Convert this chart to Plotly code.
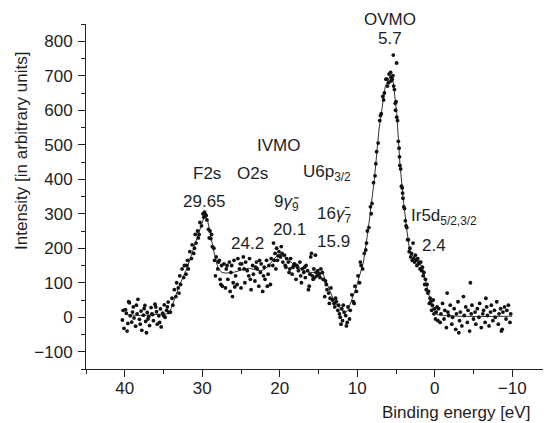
import plotly.graph_objects as go

# ---------------- measured points (binding energy in eV, intensity) ----------------
energy_baseline_hi = [40.3, 40.1, 39.9, 39.8, 39.6, 39.4, 39.3, 39.1, 38.9, 38.8,
                      38.6, 38.4, 38.3, 38.1, 37.9, 37.8, 37.6, 37.4, 37.3, 37.1,
                      36.9, 36.8, 36.6, 36.4, 36.3, 36.1, 35.9, 35.8, 35.6, 35.4,
                      35.3, 35.1, 34.9, 34.8, 34.6, 34.4, 34.3,
                      40.2, 39.7, 39.0, 38.5, 38.0, 37.5, 37.0, 36.5, 36.0, 35.5, 35.0, 34.5, 39.5, 37.2]
counts_baseline_hi = [-8, -32, 22, 12, -18, 42, 4, -14, 30, -2,
                      -26, 10, 52, -6, 18, -38, 6, 34, -12, 14,
                      2, -24, 28, 8, -10, 38, 16, -20, 4, 24,
                      -28, 12, 36, 0, 20, 44, 14,
                      20, -40, 15, 35, -20, 25, -5, 10, 30, -15, 5, 30, 45, -45]

energy_f2s = [34.1, 33.9, 33.8, 33.6, 33.4, 33.3, 33.1, 32.9, 32.8, 32.6,
              32.4, 32.3, 32.1, 31.9, 31.8, 31.6, 31.4, 31.3, 31.1, 30.9,
              30.8, 30.6, 30.4, 30.3, 30.1, 29.9, 29.8,
              33.0, 32.0, 31.0, 30.5, 29.7, 29.6,
              29.5, 29.4, 29.2, 29.0, 28.9, 28.7, 28.5, 28.4, 28.2, 28.0,
              27.9, 27.7, 27.5, 27.4,
              29.1, 28.8, 28.3, 27.8, 27.6]
counts_f2s = [15, 55, 35, 80, 60, 100, 85, 120, 95, 140,
              115, 150, 125, 165, 140, 190, 170, 210, 185, 240,
              215, 250, 240, 275, 265, 300, 290,
              70, 150, 200, 230, 305, 298,
              295, 282, 255, 250, 228, 205, 200, 165, 175, 140,
              160, 110, 150, 90,
              230, 240, 120, 165, 95]

energy_o2s_ivmo = [27.2, 27.0, 26.9, 26.7, 26.5, 26.4, 26.2, 26.0, 25.9, 25.7,
                   25.5, 25.4, 25.2, 25.0, 24.9, 24.7, 24.5, 24.4, 24.2, 24.0,
                   23.9, 23.7, 23.5, 23.4, 23.2, 23.0, 22.9, 22.7, 22.5, 22.4,
                   22.2, 22.0, 21.9, 21.7, 21.5, 21.4, 21.2,
                   26.8, 26.3, 25.8, 25.1, 24.6, 23.8, 23.1, 22.6, 22.1, 21.6, 26.1,
                   21.1, 20.9, 20.8, 20.6, 20.4, 20.3, 20.1, 19.9, 19.8, 19.6,
                   19.4, 19.3, 19.1,
                   20.7, 20.2, 19.7, 19.2, 20.5]
counts_o2s_ivmo = [155, 85, 140, 110, 160, 75, 150, 100, 165, 120,
                   95, 170, 140, 85, 155, 175, 100, 160, 135, 120,
                   170, 80, 150, 125, 105, 160, 140, 90, 130, 155,
                   75, 145, 110, 165, 125, 150, 95,
                   150, 130, 88, 155, 140, 110, 145, 165, 120, 90, 60,
                   170, 150, 215, 185, 200, 165, 190, 175, 205, 160,
                   180, 150, 170,
                   165, 178, 185, 145, 140]

energy_u6p = [18.9, 18.7, 18.6, 18.4, 18.2, 18.1, 17.9, 17.7, 17.6, 17.4,
              17.2, 17.1, 16.9, 16.7, 16.6, 16.4, 16.2, 16.1, 15.9, 15.7,
              15.6, 15.4, 15.2, 15.1, 14.9, 14.7,
              18.8, 18.3, 17.8, 17.3, 16.8, 16.3, 15.8, 15.3, 14.8, 16.0, 15.5,
              14.5, 14.4, 14.2, 14.0, 13.9, 13.7, 13.5, 13.4, 13.2, 13.0,
              12.9, 12.7, 12.5, 12.4, 12.2, 12.0, 11.9, 11.7, 11.5, 11.4,
              11.2, 11.0,
              14.1, 13.6, 12.8, 12.3, 11.8, 11.3, 12.1]
counts_u6p = [160, 140, 170, 125, 150, 155, 110, 145, 135, 160,
              100, 140, 130, 115, 150, 135, 90, 125, 185, 110,
              140, 180, 120, 135, 125, 140,
              130, 145, 150, 120, 145, 80, 120, 130, 115, 175, 115,
              130, 110, 60, 95, 80, 70, 55, 85, 50, 40,
              30, 45, 20, 35, 0, 25, -10, 15, 5, -25,
              30, -5,
              105, 40, 55, 10, 35, -15, -20]

energy_ovmo = [10.9, 10.7, 10.5, 10.3, 10.1, 9.9, 9.7, 9.5, 9.3, 9.1,
               8.9, 8.7, 8.5, 8.3, 8.1, 7.9, 7.7, 7.5, 7.3, 7.1,
               6.9, 6.7, 6.5, 6.3, 6.1, 5.9,
               10.4, 9.6, 8.8, 8.2, 7.6, 7.0, 6.6, 6.2, 5.95,
               5.7, 5.6, 5.5, 5.4, 5.3, 5.2, 5.1, 5.0, 4.9, 4.8,
               4.7, 4.6, 4.5, 4.4, 4.3, 4.2, 4.1, 4.0, 3.9, 3.8, 3.7,
               5.35, 4.92, 5.65, 5.05, 4.55, 4.15]
counts_ovmo = [20, 65, 45, 90, 75, 120, 100, 150, 140, 185,
               195, 250, 260, 320, 330, 390, 410, 480, 505, 570,
               590, 640, 650, 690, 670, 705,
               40, 160, 215, 300, 445, 585, 630, 690, 680,
               710, 695, 690, 700, 670, 660, 620, 625, 580, 570,
               510, 490, 440, 430, 380, 375, 345, 320, 315, 280, 265,
               760, 737, 685, 600, 465, 360]

energy_ir5d = [3.6, 3.5, 3.4, 3.3, 3.2, 3.1, 3.0, 2.9, 2.8, 2.7,
               2.6, 2.5, 2.4, 2.3, 2.2, 2.1, 2.0, 1.9, 1.8, 1.7,
               1.6, 1.5, 1.4, 1.3,
               1.2, 1.1, 1.0, 0.9, 0.8, 0.7, 0.6, 0.5, 0.4, 0.3,
               0.2, 0.1, 0.0, -0.1, -0.2, -0.3, -0.4]
counts_ir5d = [260, 225, 225, 190, 200, 175, 185, 165, 215, 170,
               160, 180, 165, 150, 170, 155, 160, 140, 160, 135,
               145, 120, 130, 95,
               110, 80, 95, 70, 75, 40, 55, 45, 20, 35,
               50, 10, 25, -5, 15, 30, -10]

energy_baseline_lo = [-0.5, -0.7, -0.8, -1.0, -1.2, -1.3, -1.5, -1.7, -1.8, -2.0,
                      -2.2, -2.3, -2.5, -2.7, -2.8, -3.0, -3.2, -3.3, -3.5, -3.7,
                      -3.8, -4.0, -4.2, -4.3, -4.5, -4.7, -4.8, -5.0, -5.2, -5.3,
                      -5.5, -5.7, -5.8, -6.0, -6.2, -6.3, -6.5, -6.7, -6.8, -7.0,
                      -7.2, -7.3, -7.5, -7.7, -7.8, -8.0, -8.2, -8.3, -8.5, -8.7,
                      -8.8, -9.0, -9.2, -9.3, -9.5, -9.7,
                      -4.6, -1.6, -3.1, -6.6, -8.6, -9.8]
counts_baseline_lo = [25, -15, 10, 40, -5, 20, -30, 15, 5, 35,
                      -20, 0, 25, -35, 10, 45, -10, 15, -25, 60,
                      5, 30, -15, 20, -40, 10, 35, -5, 15, -20,
                      25, 0, 40, -30, 10, 20, -15, 30, 5, -25,
                      15, 35, -10, 20, 0, 45, -20, 10, 25, -35,
                      15, 30, -5, 20, 35, -15,
                      100, 70, -45, 55, -40, 10]

# ---------------- fitted curve ----------------
fit_energy = [40, 38, 36, 34.5, 34, 33, 32, 31, 30.5, 30, 29.65, 29.3, 29, 28.5, 28,
              27.5, 27, 26.5, 26, 25.5, 25, 24.5, 24, 23.5, 23, 22.5, 22, 21.5, 21,
              20.5, 20, 19.5, 19, 18.5, 18, 17.5, 17, 16.5, 16, 15.5, 15, 14.8, 14.4,
              13.7, 12.9, 12.2, 11.6, 11.2, 10.6, 10.1, 9.2, 8.6, 7.8, 7.2, 6.4, 5.7,
              5.4, 4.9, 4.5, 4.1, 3.6, 3.2, 2.8, 1.9, 1.5, 0.9, 0.4, -0.25, -1, -3, -6, -10]
fit_counts = [8, 5, 8, 10, 25, 90, 140, 210, 245, 280, 298, 280, 245, 190, 145,
              130, 128, 128, 130, 133, 137, 140, 142, 140, 137, 135, 138, 148, 162,
              175, 182, 177, 168, 158, 150, 143, 137, 132, 130, 130, 130, 130, 125,
              85, 42, 25, 12, 20, 55, 89, 160, 253, 398, 543, 668, 702,
              690, 591, 447, 349, 253, 186, 178, 157, 137, 79, 31, 8, 5, 3, 2, 3]

# ---------------- peak labels ----------------
label_texts = ["5.7", "IVMO", "F2s", "O2s", "U6p<sub>3/2</sub>", "29.65",
               "9<i>γ</i><sub>9</sub>", "16<i>γ</i><sub>7</sub>", "24.2", "20.1", "15.9",
               "Ir5d<sub>5/2,3/2</sub>", "2.4"]
label_energy = [5.77, 20.2, 29.43, 23.56, 13.9, 29.65, 19.1, 13.0, 24.1, 18.8, 13.1, -1.15, 0.06]
label_counts = [808, 497, 417, 417, 417, 335, 331, 297, 214, 253, 219, 292, 207]
top_label = "OVMO"
top_label_energy = 5.77
# superscript "minus" bars over the gamma subscripts
bar_energy = [17.85, 11.3]
bar_counts = [346, 318]

groups = [(energy_baseline_hi, counts_baseline_hi), (energy_f2s, counts_f2s),
          (energy_o2s_ivmo, counts_o2s_ivmo), (energy_u6p, counts_u6p),
          (energy_ovmo, counts_ovmo), (energy_ir5d, counts_ir5d),
          (energy_baseline_lo, counts_baseline_lo)]
energy, counts = [], []
for ex, cy in groups:
    assert len(ex) == len(cy), (len(ex), len(cy))
    energy += ex
    counts += cy
assert len(fit_energy) == len(fit_counts), (len(fit_energy), len(fit_counts))

FONT = "Liberation Sans, Arial, Helvetica, sans-serif"
TXT = "#1e1e1e"

fig = go.Figure()
fig.add_trace(go.Scatter(x=fit_energy, y=fit_counts, mode="lines",
                         line=dict(color="#333333", width=1), hoverinfo="skip"))
fig.add_trace(go.Scatter(x=energy, y=counts, mode="markers",
                         marker=dict(color="#111111", size=3.8, line=dict(width=0))))

for t, xv, yv in zip(label_texts, label_energy, label_counts):
    fig.add_annotation(x=xv, y=yv, xref="x", yref="y", text=t, showarrow=False,
                       font=dict(size=17, color=TXT, family=FONT),
                       xanchor="center", yanchor="middle")
# label sitting above the plotting range (paper y, x in data units)
fig.add_annotation(x=top_label_energy, y=1.012, xref="x", yref="paper", text=top_label,
                   showarrow=False, font=dict(size=17, color=TXT, family=FONT),
                   xanchor="center", yanchor="middle")
for xv, yv in zip(bar_energy, bar_counts):
    fig.add_shape(type="line", xref="x", yref="y", x0=xv + 0.3, x1=xv - 0.3, y0=yv, y1=yv,
                  line=dict(color=TXT, width=1.2))

fig.add_annotation(x=0.959, y=-0.125, xref="paper", yref="paper",
                   text="Binding energy [eV]", showarrow=False,
                   font=dict(size=17, color=TXT, family=FONT),
                   xanchor="right", yanchor="middle")
fig.add_annotation(x=-0.139, y=0.633, xref="paper", yref="paper",
                   text="Intensity [in arbitrary units]", showarrow=False, textangle=-90,
                   font=dict(size=17, color=TXT, family=FONT),
                   xanchor="center", yanchor="middle")

axis_common = dict(showgrid=False, zeroline=False, showline=True, linecolor="#222222",
                   linewidth=1, ticks="outside", ticklen=7, tickwidth=1,
                   tickcolor="#222222", tickfont=dict(size=17, color=TXT, family=FONT))
fig.update_xaxes(range=[45, -15], tick0=0, dtick=10, ticklabelstandoff=-3,
                 minor=dict(dtick=5, tick0=0, ticks="outside", ticklen=4,
                            tickcolor="#222222", showgrid=False),
                 **axis_common)
fig.update_yaxes(range=[-150, 850], tick0=0, dtick=100, ticklabelstandoff=2,
                 minor=dict(dtick=50, tick0=0, ticks="outside", ticklen=4,
                            tickcolor="#222222", showgrid=False),
                 **axis_common)

# the page adds an 8 px body margin, so the figure is 8 px smaller and offset
fig.update_layout(width=543, height=415, showlegend=False,
                  margin=dict(l=78, r=0, t=16, b=54),
                  paper_bgcolor="white", plot_bgcolor="white",
                  font=dict(family=FONT, color=TXT))
fig.write_html("out.html")
